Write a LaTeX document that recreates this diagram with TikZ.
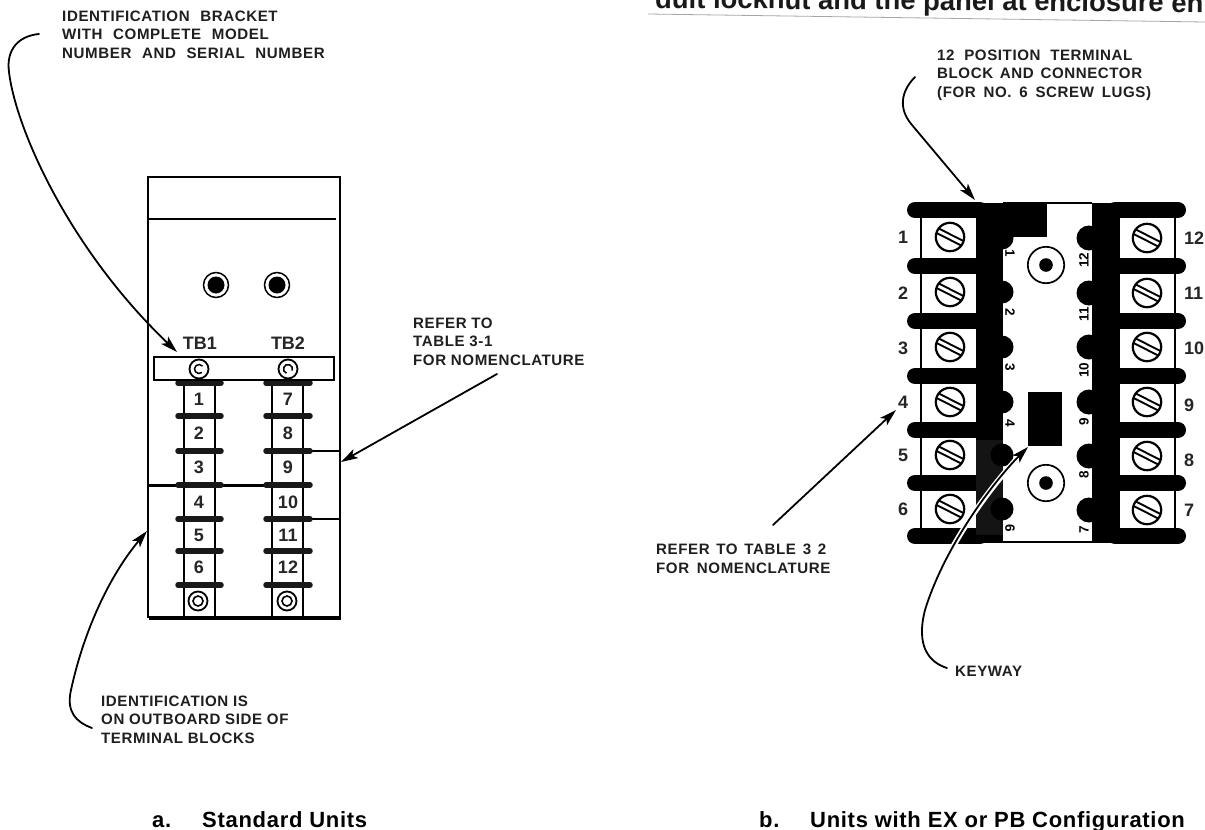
\documentclass[tikz,border=0pt]{standalone}
\usepackage{fontspec}
\setmainfont{Liberation Sans}
\newfontfamily\callfont[LetterSpace=3.8]{Liberation Sans Bold}
\newfontfamily\callwide[LetterSpace=4,WordSpace=2.2]{Liberation Sans Bold}
\newfontfamily\capfont[LetterSpace=3.2]{Liberation Sans Bold}
\usetikzlibrary{arrows.meta}
\tikzset{
  x=1pt,y=-1pt,
  calltext/.style={font=\callfont\fontsize{15.1}{18.4}\selectfont,anchor=base west,align=left,inner sep=0pt,text=black!88},
  callwidetext/.style={calltext,font=\callwide\fontsize{15.1}{18.4}\selectfont},
  captext/.style={font=\capfont\fontsize{22}{24}\selectfont,anchor=base west,inner sep=0pt},
  numtext/.style={font=\bfseries\fontsize{18}{20}\selectfont,inner sep=0pt,text=black!85},
  sidetext/.style={font=\bfseries\fontsize{18}{22}\selectfont,inner sep=0pt,text=black!85},
  platetext/.style={font=\bfseries\fontsize{13.5}{14}\selectfont,inner sep=0pt},
  leader/.style={line width=1.8pt,line cap=round,-{Stealth[length=17pt,width=10pt,inset=4pt]}},
  halo/.style={line width=5.5pt,white},
  panelline/.style={line width=2.3pt,black},
  blockbar/.style={line width=5.5pt,black!90,line cap=round},
  fatbar/.style={line width=16pt,black,line cap=round},
  bump/.style={fill=black,draw=none},
}
\newcommand{\slotscrew}[2]{%
  \draw[line width=2.2pt,fill=white] (#1,#2) circle[radius=14.2];
  \begin{scope}[shift={(#1,#2)},rotate=-27]
    \draw[line width=1.9pt] (-13.3,-2.5) -- (13.3,-2.5);
    \draw[line width=1.9pt] (-13.3,2.5) -- (13.3,2.5);
  \end{scope}}
\begin{document}
\begin{tikzpicture}
\useasboundingbox (0,0) rectangle (1205,830);
\fill[white] (0,0) rectangle (1205,830);
\clip (0,0) rectangle (1205,830);

% ---- top clipped text
\node[font=\bfseries\fontsize{27.4}{29}\selectfont,anchor=base west,inner sep=0pt,text=black!90,rotate=-0.45] (toptext) at (655,8) {duit locknut and the panel at enclosure ent};
\draw[black!35,line width=.8pt] (648,14) -- (1205,22);

% ---- panel a
\draw[panelline] (148,177) -- (148,618);
\draw[panelline] (340,177) -- (340,618);
\draw[line width=2.8pt] (147,177) -- (341,177);
\draw[line width=3.6pt] (149,618) -- (341,618);
\draw[line width=1.7pt] (148,219) -- (336,219);
\foreach \cx in {216,277}{
  \draw[line width=1.5pt] (\cx,285) circle[radius=12.5];
  \fill (\cx,285) circle[radius=8.5];
}
\node[numtext] (tbone) at (200,343) {TB1};
\node[numtext] (tbtwo) at (288,343) {TB2};
% blocks
\foreach \xa/\xb in {184/215,272/303}{
  \draw[panelline] (\xa,380) -- (\xa,618);
  \draw[panelline] (\xb,380) -- (\xb,618);
}
% horizontal wires
\draw[line width=3pt] (148,485) -- (264,485);
\draw[line width=2pt] (312,451) -- (340,451);
\draw[line width=2pt] (312,519) -- (340,519);
\foreach \yy in {383,416,451,485,519,551,585}{
  \draw[blockbar] (178,\yy) -- (221,\yy);
  \draw[blockbar] (266,\yy) -- (310,\yy);
}
\foreach \nn/\yy in {1/399,2/433,3/467,4/502,5/535,6/567}{
  \node[numtext] (a\nn) at (199,\yy) {\nn};
}
\foreach \nn/\yy in {7/399,8/433,9/467,10/502,11/535,12/567}{
  \node[numtext] (a\nn) at (288,\yy) {\nn};
}
% bracket
\draw[panelline,fill=white] (154,357) rectangle (334,380);
\foreach \cx/\st in {199/50,288/110}{
  \draw[line width=1.8pt,fill=white] (\cx,369) circle[radius=9.5];
  \draw[line width=1.5pt] (\cx,369) ++(\st:4.5) arc[start angle=\st,end angle=\st+270,radius=4.5];
}
\foreach \cx in {198,287}{
  \draw[line width=1.8pt,fill=white] (\cx,601) circle[radius=9.5];
  \draw[line width=1.6pt] (\cx,601) circle[radius=5];
}

% labels a
\node[callwidetext] (identlabel) at (62,58) {IDENTIFICATION BRACKET\\WITH COMPLETE MODEL\\NUMBER AND SERIAL NUMBER};
\node[calltext] (referone) at (413,365) {REFER TO\\TABLE 3-1\\FOR NOMENCLATURE};
\node[calltext] (outlabel) at (101,743) {IDENTIFICATION IS\\ON OUTBOARD SIDE OF\\TERMINAL BLOCKS};
\node[captext] (capa) at (152,827) {a.};
\node[captext] (capatext) at (202,827) {Standard Units};

\coordinate (identstart) at (39,34);
\coordinate (identtip) at (177,352);
\coordinate (referstart) at (497,374);
\coordinate (refertip) at (341,462);
\coordinate (outstart) at (92,728);
\coordinate (outtip) at (147,531);
\draw[leader] (identstart) .. controls (18,36) and (6,50) .. (9,72) .. controls (16,130) and (70,250) .. (identtip);
\draw[leader] (referstart) -- (refertip);
\draw[leader] (outstart) .. controls (76,722) and (66,712) .. (71,690) .. controls (84,630) and (110,575) .. (outtip);

% ---- block b
\draw[panelline] (921,210) -- (921,536);
\draw[panelline] (1175,210) -- (1175,536);
\foreach \yy in {210,266,321,376,430,483,536}{
  \draw[fatbar] (915,\yy) -- (980,\yy);
  \draw[fatbar] (1115,\yy) -- (1178,\yy);
}
\fill (976,203) rectangle (1003,543);
\fill[black!92] (976,440) rectangle (1003,535);
\fill (1092,203) rectangle (1120,543);
\fill (1003,203) rectangle (1047,237);
\draw[line width=1.6pt] (1003,203) -- (1092,203);
\draw[line width=2.8pt] (990,542) -- (1100,542);
\foreach \yy in {238,292,347,402,455,509}{ \fill[bump] (1002,\yy) circle[radius=11.5]; }
\foreach \yy in {238,293,347,402,456,510}{ \fill[bump] (1089,\yy) circle[radius=12.5]; }
\foreach \yy in {237,292,347,402,455,509}{ \slotscrew{950}{\yy} }
\foreach \yy in {238,293,347,402,456,510}{ \slotscrew{1147}{\yy} }
\foreach \yy in {265,483}{
  \draw[line width=1.7pt] (1046,\yy) circle[radius=18.2];
  \fill (1046,\yy) circle[radius=6.8];
}
\fill (1028,392) rectangle (1062,446);
\foreach \nn/\xx/\yy in {1/1010/253,2/1010/312,3/1010/367,4/1010/423,6/1010/528}{
  \node[platetext,rotate=-90] (p\nn) at (\xx,\yy) {\nn};
}
\foreach \nn/\yy in {12/260,11/314,10/370,9/422,8/475,7/530}{
  \node[platetext,rotate=90] (p\nn) at (1084,\yy) {\nn};
}
\foreach \nn/\yy in {1/237,2/293,3/348,4/402,5/455,6/509}{
  \node[sidetext] (s\nn) at (903,\yy) {\nn};
}
\foreach \nn/\yy in {12/238,11/293,10/348,9/405,8/460,7/510}{
  \node[sidetext,anchor=west] (s\nn) at (1184,\yy) {\nn};
}

\node[calltext] (blocklabel) at (937,97) {12\kern5pt{} POSITION\kern5pt{} TERMINAL\\BLOCK\kern2pt{} AND\kern2pt{} CONNECTOR\\(FOR\kern3pt{} NO.\kern3pt{} 6\kern3pt{} SCREW\kern3pt{} LUGS)};
\node[calltext] (refertwo) at (656,573) {REFER\kern2pt{} TO\kern2pt{} TABLE\kern2pt{} 3\kern2pt{} 2\\FOR\kern3pt{} NOMENCLATURE};
\node[calltext] (keylabel) at (955,676) {KEYWAY};
\node[captext] (capb) at (759,827) {b.};
\node[captext] (capbtext) at (810,827) {Units with EX or PB Configuration};

\coordinate (blockstart) at (915,77);
\coordinate (blocktip) at (975,200);
\coordinate (rtwostart) at (773,525);
\coordinate (rtwotip) at (896,410);
\coordinate (keystart) at (947,668);
\coordinate (keytip) at (1028,447);
\draw[leader] (blockstart) .. controls (905,87) and (895,105) .. (912,125) -- (blocktip);
\draw[leader] (rtwostart) -- (rtwotip);
\draw[halo] (925,610) .. controls (945,545) and (995,480) .. (keytip);
\draw[leader] (keystart) .. controls (928,662) and (916,645) .. (925,610) .. controls (945,545) and (995,480) .. (keytip);
\end{tikzpicture}
\end{document}
